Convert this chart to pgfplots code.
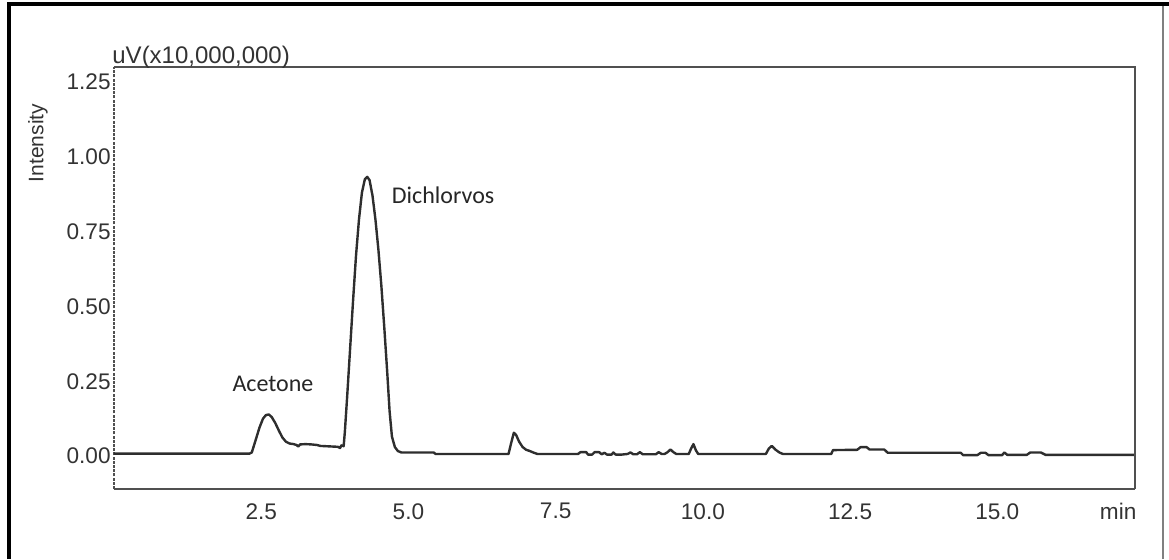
\documentclass[border=0pt]{standalone}
\usepackage{fontspec}
\setmainfont{Liberation Sans}
\newfontfamily\calibri{Carlito}
\usepackage{pgfplots}
\pgfplotsset{compat=1.18}
\definecolor{trace}{HTML}{2E2E2E}
\definecolor{frame}{HTML}{505050}
\definecolor{ticktext}{HTML}{333333}

\begin{document}
\begin{tikzpicture}
\useasboundingbox (0,0) rectangle (584.5pt,279.5pt);
% screenshot border
\draw[line width=2pt,black] (4.25pt,0) -- (4.25pt,277.3pt) -- (584.5pt,277.3pt);
\draw[line width=0.6pt,gray] (581.5pt,0) -- (581.5pt,276.3pt);
\begin{axis}[
  at={(57pt,35pt)}, anchor=south west,
  scale only axis, width=510.25pt, height=211pt,
  xmin=0, xmax=17.33, ymin=-0.11, ymax=1.30,
  clip=false,
  axis lines=left,
  axis line style={-, draw=frame, line width=1pt},
  y axis line style={dash pattern=on 1.5pt off 0.6pt},
  major tick length=0pt,
  xtick={2.5,5,7.5,10,12.5,15},
  ytick={0,0.25,0.5,0.75,1,1.25},
  /pgf/number format/assume math mode=true,
  ticklabel style={font=\fontsize{11.3pt}{13pt}\selectfont, text=ticktext},
  xticklabel style={yshift=-3.6pt, /pgf/number format/.cd, fixed, fixed zerofill, precision=1},
  yticklabel style={inner sep=1.5pt, /pgf/number format/.cd, fixed, fixed zerofill, precision=2},
  ylabel={Intensity},
  ylabel style={at={(rel axis cs:-0.0745,0.82)}, anchor=center,
    font=\fontsize{10.5pt}{12pt}\selectfont, text=ticktext},
]
\addplot[trace, line width=1.2pt, line join=round] table {
0.00 0.008
2.30 0.008
2.34 0.012
2.40 0.050
2.47 0.095
2.53 0.125
2.58 0.137
2.63 0.139
2.68 0.130
2.74 0.110
2.80 0.085
2.86 0.062
2.92 0.048
2.98 0.042
3.05 0.040
3.10 0.037
3.13 0.032
3.16 0.039
3.25 0.040
3.35 0.039
3.45 0.037
3.50 0.034
3.60 0.033
3.70 0.032
3.80 0.031
3.84 0.027
3.86 0.036
3.90 0.033
3.92 0.080
3.96 0.200
4.01 0.360
4.06 0.520
4.11 0.670
4.16 0.790
4.21 0.880
4.26 0.925
4.30 0.933
4.34 0.922
4.39 0.870
4.44 0.790
4.49 0.690
4.54 0.570
4.59 0.430
4.64 0.280
4.68 0.150
4.72 0.065
4.77 0.030
4.82 0.017
4.88 0.012
5.43 0.012
5.46 0.007
6.70 0.007
6.74 0.040
6.79 0.078
6.83 0.070
6.88 0.048
6.94 0.030
7.00 0.021
7.06 0.017
7.12 0.012
7.19 0.007
7.88 0.007
7.92 0.013
8.02 0.013
8.05 0.005
8.12 0.005
8.16 0.013
8.24 0.013
8.28 0.006
8.33 0.011
8.37 0.005
8.45 0.005
8.48 0.012
8.52 0.005
8.62 0.005
8.72 0.007
8.77 0.012
8.82 0.006
8.88 0.006
8.93 0.013
8.98 0.006
9.20 0.006
9.25 0.013
9.30 0.007
9.35 0.007
9.40 0.013
9.45 0.022
9.50 0.013
9.55 0.007
9.76 0.007
9.80 0.025
9.84 0.040
9.88 0.020
9.92 0.007
11.07 0.007
11.12 0.025
11.17 0.034
11.23 0.022
11.30 0.012
11.36 0.007
12.18 0.007
12.21 0.020
12.62 0.021
12.68 0.030
12.78 0.030
12.83 0.022
13.08 0.022
13.14 0.011
14.38 0.011
14.42 0.003
14.66 0.003
14.72 0.011
14.80 0.011
14.85 0.003
15.08 0.003
15.12 0.012
15.17 0.004
15.50 0.004
15.56 0.012
15.74 0.012
15.82 0.004
17.33 0.004
};
\draw[frame, line width=1pt] (rel axis cs:0,1) -- (rel axis cs:1,1) -- (rel axis cs:1,0);
\node[font=\calibri\fontsize{12pt}{14pt}\selectfont, text=black!85] at (axis cs:2.70,0.24) {Acetone};
\node[font=\calibri\fontsize{12pt}{14pt}\selectfont, text=black!85] at (axis cs:5.59,0.87) {Dichlorvos};
\node[anchor=base west, inner sep=0pt, xshift=-1pt, yshift=2pt,
  font=\fontsize{12pt}{14pt}\selectfont, text=ticktext] at (rel axis cs:0,1) {uV(x10,000,000)};
\node[anchor=north, yshift=-3.6pt, font=\fontsize{11.3pt}{13pt}\selectfont, text=ticktext]
  at (rel axis cs:0.984,0) {min};
\end{axis}
\end{tikzpicture}
\end{document}
